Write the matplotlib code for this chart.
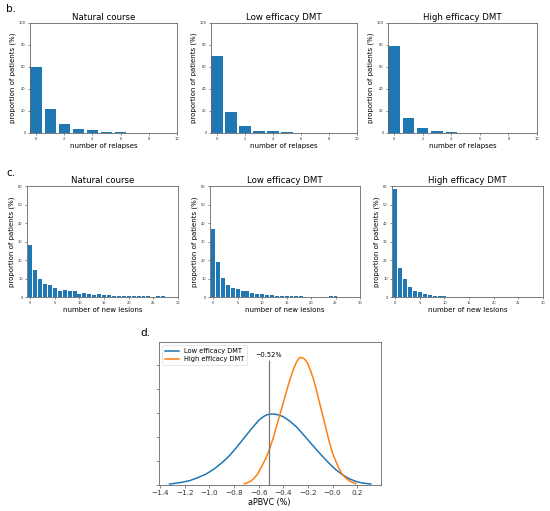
import matplotlib
matplotlib.use("Agg")
import matplotlib.pyplot as plt
import numpy as np

# ---------------- data ----------------
relapse_titles = ["Natural course", "Low efficacy DMT", "High efficacy DMT"]
relapse_natural = [60, 22, 8, 3.5, 3, 1.2, 0.7, 0.4, 0.2, 0.1]
relapse_low = [70, 19, 6.5, 1.5, 1.5, 0.6, 0.1]
relapse_high = [79, 14, 4.5, 1.5, 0.5, 0.1]

lesion_natural = [28.2, 14.5, 9.5, 6.8, 6.7, 4.8, 3.0, 4.0, 3.3, 3.0,
                  1.8, 2.3, 1.6, 1.3, 1.6, 0.9, 0.9, 0.7, 0.5, 0.4,
                  0.4, 0.3, 0.4, 0.5, 0.3, 0.2, 0.4, 0.5, 0.1, 0.1]
lesion_low = [36.5, 19.0, 10.5, 6.3, 4.6, 4.3, 3.5, 3.0, 2.4, 1.5,
              1.4, 1.2, 1.1, 0.8, 0.7, 0.5, 0.4, 0.3, 0.3, 0.2,
              0.1, 0.1, 0.2, 0.1, 0.4, 0.3]
lesion_high = [58.5, 15.5, 10.0, 5.5, 3.0, 2.5, 1.8, 1.2, 0.8, 0.6,
               0.4, 0.2, 0.1, 0.2, 0.1, 0.1, 0.2]

low_x = [-1.324, -1.243, -1.162, -1.095, -1.027, -0.959, -0.892, -0.838, -0.784, -0.730,
         -0.676, -0.635, -0.595, -0.554, -0.530, -0.505, -0.480, -0.459, -0.430, -0.405,
         -0.351, -0.297, -0.243, -0.189, -0.135, -0.081, -0.027, 0.027, 0.081, 0.135,
         0.189, 0.243, 0.311]
low_y = [0.028, 0.083, 0.167, 0.292, 0.444, 0.667, 0.944, 1.208, 1.528, 1.875,
         2.222, 2.472, 2.708, 2.861, 2.920, 2.944, 2.945, 2.931, 2.895, 2.847,
         2.667, 2.431, 2.125, 1.806, 1.486, 1.181, 0.889, 0.625, 0.417, 0.250,
         0.139, 0.069, 0.028]
high_x = [-0.716, -0.676, -0.649, -0.608, -0.568, -0.541, -0.514, -0.486, -0.459, -0.432,
          -0.405, -0.378, -0.351, -0.324, -0.297, -0.280, -0.265, -0.248, -0.230, -0.215,
          -0.203, -0.176, -0.155, -0.135, -0.108, -0.081, -0.054, -0.027, 0.000, 0.027,
          0.054, 0.081, 0.108, 0.135, 0.162, 0.189]
high_y = [0.042, 0.111, 0.208, 0.444, 0.833, 1.111, 1.458, 1.875, 2.361, 2.847,
          3.333, 3.819, 4.306, 4.722, 5.069, 5.220, 5.306, 5.300, 5.250, 5.160,
          5.069, 4.722, 4.400, 4.028, 3.472, 2.917, 2.361, 1.806, 1.319, 0.972,
          0.667, 0.417, 0.278, 0.167, 0.097, 0.042]
mean_low = -0.52
mean_label = "\u22120.52%"

# ---------------- layout ----------------
W, H = 550, 511
fig = plt.figure(figsize=(W / 100, H / 100), dpi=100)


def px_axes(left, right, top, bottom):
    return fig.add_axes([left / W, 1 - bottom / H, (right - left) / W, (bottom - top) / H])


BLUE = "#1f77b4"
ORANGE = "#ff7f0e"
SPINE = "#666666"


def style(ax, labelsize=2.6, length=1.5):
    for s in ax.spines.values():
        s.set_linewidth(0.6)
        s.set_color(SPINE)
    ax.tick_params(labelsize=labelsize, length=length, width=0.4, pad=1.5, colors="#333333")


# panel b
b_pos = [(30, 177), (211, 357), (388, 537)]
for (l, r), title, vals in zip(b_pos, relapse_titles, [relapse_natural, relapse_low, relapse_high]):
    ax = px_axes(l, r, 23, 133)
    ax.bar(np.arange(len(vals)), vals, width=0.8, color=BLUE)
    ax.set_xlim(-0.43, 10)
    ax.set_ylim(0, 100)
    ax.set_xticks(range(0, 11, 2))
    ax.set_yticks(range(0, 101, 20))
    ax.set_title(title, fontsize=6.2, pad=2.5)
    ax.set_xlabel("number of relapses", fontsize=5, labelpad=1.5)
    ax.set_ylabel("proportion of patients (%)", fontsize=5, labelpad=2)
    style(ax)

# panel c
c_pos = [(27, 178), (210, 360), (392, 543)]
for (l, r), title, vals in zip(c_pos, relapse_titles, [lesion_natural, lesion_low, lesion_high]):
    ax = px_axes(l, r, 186, 297)
    ax.bar(np.arange(len(vals)), vals, width=0.8, color=BLUE)
    ax.set_xlim(-0.65, 30)
    ax.set_ylim(0, 60)
    ax.set_xticks(range(0, 31, 5))
    ax.set_yticks(range(0, 61, 10))
    ax.set_title(title, fontsize=6.2, pad=2.5)
    ax.set_xlabel("number of new lesions", fontsize=5, labelpad=1.5)
    ax.set_ylabel("proportion of patients (%)", fontsize=5, labelpad=2)
    style(ax)

# panel d
ax = px_axes(159, 380.5, 342, 484.7)
ax.plot(low_x, low_y, color=BLUE, lw=1.1, label="Low efficacy DMT", solid_joinstyle="round")
ax.plot(high_x, high_y, color=ORANGE, lw=1.1, label="High efficacy DMT", solid_joinstyle="round")
ax.vlines(mean_low, 0, 5.2, color="#777777", lw=0.9)
ax.text(mean_low, 5.3, mean_label, ha="center", va="bottom", fontsize=4.8)
ax.set_xlim(-1.41, 0.39)
ax.set_ylim(0, 5.95)
xt = np.round(np.arange(-1.4, 0.21, 0.2), 1)
ax.set_xticks(xt)
ax.set_xticklabels([f"{v:.1f}".replace("-", "\u2212") for v in xt])
ax.set_yticks(range(0, 6))
ax.set_yticklabels([])
ax.set_xlabel("aPBVC (%)", fontsize=5.8, labelpad=1)
style(ax, labelsize=5.2, length=2.5)
leg = ax.legend(loc="upper left", fontsize=4.8, frameon=True, borderpad=0.45,
                handlelength=2.0, labelspacing=0.3)
leg.get_frame().set_linewidth(0.4)

# panel letters
fig.text(6 / W, 1 - 9 / H, "b.", fontsize=7.5, ha="left", va="center")
fig.text(6 / W, 1 - 173 / H, "c.", fontsize=7.5, ha="left", va="center")
fig.text(140 / W, 1 - 333 / H, "d.", fontsize=7.5, ha="left", va="center")

fig.savefig("out.png", dpi=100, facecolor="white")
